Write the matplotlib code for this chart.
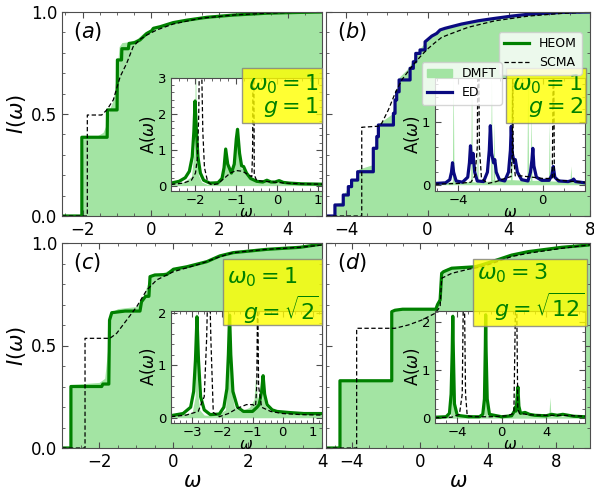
import matplotlib
matplotlib.use('Agg')
import matplotlib.pyplot as plt
from matplotlib.patches import Rectangle, Patch
from matplotlib.lines import Line2D
from matplotlib.ticker import MultipleLocator

# ---- data ----
# (a) w0=1, g=1 : cumulative weight I(w)
heom_a_w = [-2.6, -2.02, -2.02, -1.28, -1.27, -0.99, -0.98, -0.86, -0.85, -0.66, -0.64, -0.47, -0.32, -0.12, 0.02, 0.07, 0.27, 0.65, 1.05, 1.63, 2.41, 3.38, 4.36, 5.0]
heom_a_I = [0, 0, 0.386, 0.386, 0.52, 0.52, 0.765, 0.765, 0.82, 0.82, 0.846, 0.85, 0.863, 0.895, 0.908, 0.92, 0.928, 0.948, 0.96, 0.974, 0.985, 0.994, 0.998, 1.0]
dmft_a_w = [-2.6, -2.03, -1.99, -1.6, -1.4, -1.3, -1.22, -1.1, -1.0, -0.93, -0.85, -0.6, -0.4, -0.2, 0.0, 0.3, 0.7, 1.1, 1.7, 2.5, 3.4, 4.4, 5.0]
dmft_a_I = [0, 0, 0.39, 0.39, 0.41, 0.45, 0.52, 0.57, 0.7, 0.83, 0.85, 0.855, 0.87, 0.9, 0.915, 0.93, 0.95, 0.965, 0.978, 0.99, 0.997, 1.0, 1.0]
scma_a_w = [-2.6, -1.86, -1.86, -1.44, -1.29, -1.1, -0.9, -0.71, -0.52, -0.32, -0.12, 0.17, 0.65, 1.44, 2.41, 3.38, 4.36, 5.0]
scma_a_I = [0, 0, 0.495, 0.495, 0.52, 0.569, 0.683, 0.748, 0.83, 0.866, 0.887, 0.912, 0.941, 0.969, 0.985, 0.994, 0.999, 1.0]
# (a) spectral function A(w), inset
heom_a_iw = [-2.6, -2.4, -2.25, -2.15, -2.08, -2.04, -2.01, -1.98, -1.94, -1.88, -1.8, -1.65, -1.45, -1.35, -1.3, -1.26, -1.21, -1.12, -1.05, -1.0, -0.97, -0.92, -0.87, -0.82, -0.75, -0.65, -0.5, -0.35, -0.25, -0.15, -0.05, 0.05, 0.15, 0.3, 0.6, 1.1]
heom_a_A = [0.07, 0.12, 0.22, 0.4, 0.8, 1.5, 2.36, 1.6, 0.8, 0.35, 0.15, 0.07, 0.08, 0.2, 0.5, 1.02, 0.6, 0.35, 0.6, 1.3, 1.57, 0.9, 0.55, 0.53, 0.35, 0.2, 0.12, 0.1, 0.15, 0.1, 0.1, 0.14, 0.09, 0.07, 0.05, 0.04]
scma_a_iw = [-2.6, -2.3, -2.1, -2.0, -1.95, -1.92, -1.9, -1.86, -1.82, -1.78, -1.7, -1.6, -1.45, -1.3, -1.15, -1.0, -0.85, -0.7, -0.62, -0.6, -0.585, -0.575, -0.56, -0.5, -0.3, -0.1, 0.2, 0.6, 1.1]
scma_a_A = [0.03, 0.07, 0.15, 0.35, 0.8, 2.0, 4.0, 4.0, 1.5, 0.5, 0.1, 0.02, 0.05, 0.2, 0.35, 0.42, 0.4, 0.3, 0.25, 1.0, 5.0, 5.0, 0.3, 0.14, 0.12, 0.1, 0.07, 0.05, 0.04]
dmft_a_iw = [-2.6, -2.3, -2.1, -2.03, -2.0, -1.97, -1.93, -1.85, -1.7, -1.5, -1.38, -1.3, -1.26, -1.22, -1.12, -1.04, -1.0, -0.96, -0.9, -0.8, -0.7, -0.55, -0.3, 0.0, 0.4, 1.1]
dmft_a_A = [0.04, 0.1, 0.25, 1.0, 3.6, 1.2, 0.3, 0.1, 0.03, 0.05, 0.2, 0.55, 1.0, 0.6, 0.4, 0.8, 1.6, 1.0, 0.5, 0.45, 0.3, 0.15, 0.12, 0.1, 0.07, 0.05]

# (b) w0=1, g=2
ed_b_w = [-5.0, -4.56, -4.56, -4.15, -4.15, -3.9, -3.9, -3.74, -3.74, -3.44, -3.44, -2.67, -2.67, -2.5, -2.5, -2.42, -2.42, -1.68, -1.68, -1.6, -1.6, -1.52, -1.52, -1.4, -1.4, -0.86, -0.86, -0.7, -0.7, -0.58, -0.58, -0.37, -0.37, -0.12, -0.12, 0.21, 0.45, 0.62, 0.86, 1.68, 2.5, 3.33, 4.15, 4.97, 6.6, 8.0]
ed_b_I = [0, 0, 0.054, 0.054, 0.103, 0.103, 0.144, 0.144, 0.176, 0.176, 0.217, 0.217, 0.332, 0.332, 0.389, 0.389, 0.446, 0.446, 0.503, 0.503, 0.569, 0.569, 0.609, 0.609, 0.667, 0.667, 0.724, 0.724, 0.756, 0.756, 0.797, 0.797, 0.814, 0.814, 0.854, 0.882, 0.895, 0.912, 0.92, 0.941, 0.957, 0.969, 0.98, 0.989, 0.998, 1.0]
dmft_b_w = [-5.0, -4.6, -4.55, -4.2, -4.1, -3.8, -3.5, -3.4, -2.75, -2.6, -2.45, -1.75, -1.6, -1.4, -0.9, -0.6, -0.3, 0.0, 0.5, 1.0, 2.0, 3.0, 4.0, 5.0, 6.5, 8.0]
dmft_b_I = [0, 0, 0.06, 0.07, 0.11, 0.16, 0.19, 0.23, 0.25, 0.34, 0.45, 0.5, 0.58, 0.68, 0.73, 0.79, 0.83, 0.865, 0.9, 0.925, 0.945, 0.963, 0.977, 0.988, 0.997, 1.0]
scma_b_w = [-5.0, -3.24, -3.24, -2.44, -2.26, -1.93, -1.6, -1.27, -0.78, -0.29, 0.04, 0.37, 0.7, 1.19, 2.0, 3.33, 4.97, 6.6, 8.0]
scma_b_I = [0, 0, 0.435, 0.44, 0.454, 0.52, 0.601, 0.667, 0.732, 0.789, 0.822, 0.85, 0.876, 0.895, 0.925, 0.957, 0.98, 0.993, 1.0]
ed_b_iw = [-5.1, -4.6, -4.4, -4.32, -4.27, -4.22, -4.1, -3.8, -3.55, -3.47, -3.42, -3.37, -3.3, -3.22, -3.1, -2.8, -2.62, -2.53, -2.48, -2.42, -2.33, -2.27, -2.2, -2.05, -1.8, -1.62, -1.53, -1.49, -1.44, -1.35, -1.3, -1.2, -1.0, -0.7, -0.58, -0.51, -0.47, -0.42, -0.3, -0.05, 0.3, 0.43, 0.5, 0.57, 0.75, 1.2, 1.4, 1.46, 1.55, 2.0]
ed_b_A = [0.02, 0.03, 0.08, 0.2, 0.35, 0.2, 0.06, 0.04, 0.12, 0.35, 0.62, 0.35, 0.5, 0.2, 0.06, 0.05, 0.2, 0.55, 0.94, 0.5, 0.35, 0.4, 0.2, 0.08, 0.06, 0.2, 0.55, 0.93, 0.5, 0.35, 0.4, 0.2, 0.08, 0.06, 0.2, 0.4, 0.58, 0.3, 0.12, 0.07, 0.07, 0.15, 0.29, 0.12, 0.06, 0.05, 0.07, 0.09, 0.05, 0.03]
scma_b_iw = [-5.1, -4.0, -3.4, -3.2, -3.1, -3.07, -3.03, -3.0, -2.9, -2.6, -2.2, -1.8, -1.5, -1.44, -1.42, -1.4, -1.3, -1.0, -0.5, 0.0, 0.45, 0.5, 0.52, 0.55, 0.8, 1.5, 2.0]
scma_b_A = [0.01, 0.02, 0.04, 0.15, 0.6, 2.0, 2.0, 0.6, 0.1, 0.02, 0.05, 0.1, 0.13, 0.5, 2.0, 0.5, 0.14, 0.14, 0.12, 0.1, 0.1, 2.0, 2.0, 0.1, 0.07, 0.05, 0.04]
dmft_b_iw = [-5.1, -4.28, -4.24, -4.2, -3.41, -3.37, -3.33, -3.13, -3.09, -3.05, -2.47, -2.43, -2.39, -2.35, -2.31, -2.27, -1.53, -1.49, -1.45, -0.75, -0.71, -0.67, -0.59, -0.55, -0.51, 0.27, 0.31, 0.35, 1.29, 1.33, 1.37, 2.0]
dmft_b_A = [0.02, 0.05, 1.8, 0.05, 0.05, 1.8, 0.05, 0.04, 0.8, 0.04, 0.06, 1.8, 0.08, 0.08, 1.0, 0.08, 0.08, 1.8, 0.08, 0.07, 1.8, 0.07, 0.07, 1.2, 0.07, 0.07, 1.0, 0.06, 0.05, 0.3, 0.05, 0.04]

# (c) w0=1, g=sqrt(2)
heom_c_w = [-3.0, -2.76, -2.76, -1.93, -1.9, -1.74, -1.72, -1.66, -1.3, -0.9, -0.86, -0.75, -0.66, -0.63, -0.5, -0.18, 0.0, 0.36, 0.9, 1.25, 1.61, 2.51, 3.41, 4.0]
heom_c_I = [0, 0, 0.3, 0.3, 0.312, 0.312, 0.624, 0.66, 0.668, 0.668, 0.713, 0.74, 0.74, 0.836, 0.844, 0.846, 0.872, 0.884, 0.909, 0.937, 0.953, 0.969, 0.979, 0.995]
dmft_c_w = [-3.0, -2.78, -2.74, -2.0, -1.85, -1.76, -1.7, -1.5, -1.0, -0.85, -0.7, -0.6, -0.3, 0.0, 0.4, 0.9, 1.3, 1.7, 2.5, 3.4, 4.0]
dmft_c_I = [0, 0, 0.31, 0.32, 0.34, 0.5, 0.66, 0.68, 0.69, 0.72, 0.8, 0.845, 0.855, 0.875, 0.89, 0.912, 0.94, 0.955, 0.972, 0.985, 1.0]
scma_c_w = [-3.0, -2.38, -2.38, -1.71, -1.53, -1.26, -0.99, -0.72, -0.45, 0.0, 0.72, 1.25, 1.61, 2.51, 3.41, 4.0]
scma_c_I = [0, 0, 0.535, 0.535, 0.559, 0.624, 0.689, 0.77, 0.82, 0.86, 0.898, 0.933, 0.953, 0.969, 0.979, 0.99]
heom_c_iw = [-3.7, -3.3, -3.05, -2.95, -2.89, -2.84, -2.79, -2.72, -2.6, -2.4, -2.1, -1.95, -1.85, -1.8, -1.76, -1.72, -1.65, -1.5, -1.3, -1.0, -0.85, -0.78, -0.7, -0.65, -0.6, -0.52, -0.35, -0.19, 0.2, 0.7, 1.3]
heom_c_A = [0.04, 0.08, 0.2, 0.5, 1.1, 1.92, 1.1, 0.4, 0.15, 0.06, 0.07, 0.2, 0.55, 1.2, 1.95, 1.2, 0.5, 0.2, 0.12, 0.12, 0.2, 0.25, 0.5, 0.8, 0.45, 0.25, 0.15, 0.12, 0.1, 0.08, 0.08]
scma_c_iw = [-3.7, -3.2, -2.8, -2.6, -2.52, -2.48, -2.42, -2.38, -2.3, -2.1, -1.8, -1.5, -1.2, -1.0, -0.9, -0.86, -0.83, -0.8, -0.7, -0.4, 0.0, 0.6, 1.3]
scma_c_A = [0.02, 0.05, 0.12, 0.4, 1.5, 2.5, 2.5, 1.5, 0.1, 0.02, 0.08, 0.18, 0.25, 0.25, 0.22, 0.6, 2.5, 0.6, 0.2, 0.12, 0.08, 0.06, 0.05]
dmft_c_iw = [-3.7, -3.0, -2.9, -2.86, -2.82, -2.75, -2.6, -2.2, -1.9, -1.8, -1.76, -1.72, -1.6, -1.4, -1.1, -0.95, -0.9, -0.85, -0.8, -0.7, -0.65, -0.6, -0.4, 0.0, 0.6, 1.3]
dmft_c_A = [0.03, 0.1, 0.4, 2.3, 0.5, 0.15, 0.05, 0.04, 0.15, 0.8, 2.3, 0.6, 0.2, 0.12, 0.2, 0.35, 0.8, 0.45, 0.25, 0.35, 0.6, 0.25, 0.12, 0.1, 0.08, 0.06]

# (d) w0=3, g=sqrt(12)
heom_d_w = [-5.5, -4.68, -4.68, -1.64, -1.64, -1.45, -1.0, 0.95, 1.05, 1.2, 1.29, 1.4, 1.88, 3.25, 3.64, 4.42, 4.82, 5.4, 6.38, 8.34, 9.9, 10.0]
heom_d_I = [0, 0, 0.328, 0.328, 0.665, 0.672, 0.677, 0.677, 0.7, 0.722, 0.852, 0.86, 0.877, 0.884, 0.893, 0.914, 0.925, 0.941, 0.958, 0.979, 0.99, 0.992]
dmft_d_w = [-5.5, -4.7, -4.66, -1.68, -1.6, -1.4, 0.9, 1.1, 1.3, 1.5, 2.0, 3.3, 3.7, 4.4, 5.0, 6.4, 8.3, 10.0]
dmft_d_I = [0, 0, 0.33, 0.335, 0.66, 0.675, 0.68, 0.73, 0.86, 0.875, 0.885, 0.89, 0.9, 0.92, 0.935, 0.96, 0.98, 1.0]
scma_d_w = [-5.5, -3.7, -3.7, -1.45, -0.67, 0.12, 0.9, 1.2, 1.29, 1.88, 2.86, 3.64, 4.42, 5.4, 6.38, 8.34, 9.9, 10.0]
scma_d_I = [0, 0, 0.584, 0.584, 0.6, 0.624, 0.657, 0.689, 0.828, 0.852, 0.872, 0.884, 0.905, 0.934, 0.95, 0.974, 0.99, 0.992]
heom_d_iw = [-6.0, -5.0, -4.7, -4.55, -4.45, -4.4, -4.35, -4.25, -4.0, -3.0, -2.0, -1.7, -1.55, -1.47, -1.44, -1.4, -1.3, -1.1, 0.0, 0.9, 1.15, 1.22, 1.3, 1.38, 1.46, 1.55, 1.7, 2.1, 2.5, 3.0, 4.0, 4.5, 5.0, 5.5, 6.5, 7.5]
heom_d_A = [0.02, 0.03, 0.1, 0.5, 1.4, 2.12, 1.4, 0.3, 0.06, 0.03, 0.03, 0.08, 0.4, 1.5, 2.15, 1.4, 0.4, 0.08, 0.03, 0.05, 0.15, 0.23, 0.15, 0.4, 0.65, 0.25, 0.1, 0.12, 0.08, 0.06, 0.05, 0.08, 0.06, 0.08, 0.04, 0.03]
scma_d_iw = [-6.0, -4.5, -3.8, -3.55, -3.45, -3.35, -3.25, -3.1, -2.5, -1.0, 0.5, 1.1, 1.25, 1.35, 1.45, 1.6, 2.5, 4.0, 5.5, 7.5]
scma_d_A = [0.01, 0.02, 0.08, 0.5, 2.5, 2.5, 0.5, 0.05, 0.03, 0.03, 0.05, 0.1, 2.5, 2.5, 0.2, 0.1, 0.07, 0.06, 0.06, 0.04]
dmft_d_iw = [-6.0, -4.6, -4.45, -4.4, -4.35, -4.2, -1.6, -1.48, -1.44, -1.4, -1.3, 1.0, 1.25, 1.35, 1.45, 1.7, 4.25, 4.34, 4.43, 7.5]
dmft_d_A = [0.02, 0.05, 0.8, 2.4, 0.8, 0.05, 0.05, 0.8, 2.4, 0.8, 0.05, 0.05, 0.3, 0.7, 0.3, 0.08, 0.05, 0.44, 0.05, 0.03]

FILL = '#a3e4a3'
GREEN = 'green'
NAVY = '#0a0a80'

plt.rcParams['axes.edgecolor'] = '0.3'
fig = plt.figure(figsize=(5.94, 4.92), dpi=100)


def px(x0, y0, x1, y1):
    # pixel box of the 594x492 picture -> figure fraction [l, b, w, h]
    return [x0 / 594, 1 - y1 / 492, (x1 - x0) / 594, (y1 - y0) / 492]


def style(ax, size):
    ax.minorticks_on()
    ax.tick_params(which='both', direction='in', top=True, right=True, labelsize=size, color='0.3')
    ax.tick_params(which='major', length=4)
    ax.tick_params(which='minor', length=2)


def main_panel(rect, xlim, xstep, label, dmft, scma, line, lcolor, left, bottom):
    ax = fig.add_axes(px(*rect))
    ax.fill_between(dmft[0], 0, dmft[1], color=FILL, lw=0)
    ax.plot(line[0], line[1], color=lcolor, lw=2.3)
    ax.plot(scma[0], scma[1], 'k--', lw=0.9, dashes=(3.5, 2))
    ax.set_xlim(xlim)
    ax.set_ylim(0, 1)
    ax.xaxis.set_major_locator(MultipleLocator(xstep))
    ax.yaxis.set_major_locator(MultipleLocator(0.5))
    style(ax, 12)
    ax.text(0.042, 0.905, label, transform=ax.transAxes, fontsize=15, va='center')
    if left:
        ax.set_ylabel(r'$I(\omega)$', fontsize=15, labelpad=2)
    else:
        ax.tick_params(labelleft=False)
    if bottom:
        ax.set_xlabel(r'$\omega$', fontsize=15, labelpad=0)
    return ax


def inset(rect, xlim, ylim, xstep, dmft, scma, line, lcolor):
    ax = fig.add_axes(px(*rect))
    ax.fill_between(dmft[0], 0, dmft[1], color=FILL, lw=0)
    ax.plot(line[0], line[1], color=lcolor, lw=2.3)
    ax.plot(scma[0], scma[1], 'k--', lw=0.9, dashes=(3.5, 2))
    ax.set_xlim(xlim)
    ax.set_ylim(ylim)
    ax.xaxis.set_major_locator(MultipleLocator(xstep))
    ax.yaxis.set_major_locator(MultipleLocator(1))
    style(ax, 9.5)
    ax.tick_params(axis='x', pad=2)
    ax.set_ylabel(r'$\mathrm{A}(\omega)$', fontsize=12, labelpad=0)
    ax.set_xlabel(r'$\omega$', fontsize=11, labelpad=-1)
    return ax


def gbox(rect, lines):
    fig.add_artist(Rectangle(px(*rect)[:2], px(*rect)[2], px(*rect)[3], transform=fig.transFigure,
                             facecolor='yellow', alpha=0.8, edgecolor='0.5', lw=1, zorder=4))
    for x, y, s, ha in lines:
        fig.text(x / 594, 1 - y / 492, s, ha=ha, va='center', color=GREEN, fontsize=16, zorder=5)


main_panel((62, 12, 322, 216), (-2.6, 5), 2, '$(a)$', (dmft_a_w, dmft_a_I), (scma_a_w, scma_a_I), (heom_a_w, heom_a_I), GREEN, True, False)
main_panel((326, 12, 590, 216), (-5, 8), 4, '$(b)$', (dmft_b_w, dmft_b_I), (scma_b_w, scma_b_I), (ed_b_w, ed_b_I), NAVY, False, False)
main_panel((62, 243, 322, 448), (-3, 4), 2, '$(c)$', (dmft_c_w, dmft_c_I), (scma_c_w, scma_c_I), (heom_c_w, heom_c_I), GREEN, True, True)
main_panel((326, 243, 590, 448), (-5.5, 10), 4, '$(d)$', (dmft_d_w, dmft_d_I), (scma_d_w, scma_d_I), (heom_d_w, heom_d_I), GREEN, False, True)

inset((171, 78, 322, 191), (-2.6, 1.1), (-0.15, 3), 1, (dmft_a_iw, dmft_a_A), (scma_a_iw, scma_a_A), (heom_a_iw, heom_a_A), GREEN)
inset((435, 78, 585, 191), (-5.1, 2.0), (-0.1, 1.7), 4, (dmft_b_iw, dmft_b_A), (scma_b_iw, scma_b_A), (ed_b_iw, ed_b_A), NAVY)
inset((171, 311, 322, 423), (-3.7, 1.3), (-0.1, 2.03), 1, (dmft_c_iw, dmft_c_A), (scma_c_iw, scma_c_A), (heom_c_iw, heom_c_A), GREEN)
inset((435, 311, 585, 423), (-6, 7.5), (-0.1, 2.23), 4, (dmft_d_iw, dmft_d_A), (scma_d_iw, scma_d_A), (heom_d_iw, heom_d_A), GREEN)

gbox((242, 68, 322, 123), [(319, 84, r'$\omega_0=1$', 'right'), (319, 107, r'$g=1$', 'right')])
gbox((506, 68, 586, 123), [(583, 84, r'$\omega_0=1$', 'right'), (583, 107, r'$g=2$', 'right')])
gbox((223, 259, 322, 325), [(227, 277, r'$\omega_0=1$', 'left'), (319, 310, r'$g=\sqrt{2}$', 'right')])
gbox((473, 259, 587, 326), [(477, 273, r'$\omega_0=3$', 'left'), (584, 307, r'$g=\sqrt{12}$', 'right')])

fig.legend(handles=[Line2D([], [], color=GREEN, lw=2.3), Line2D([], [], color='k', ls='--', lw=0.9, dashes=(3.5, 2))],
           labels=['HEOM', 'SCMA'], loc='upper right', bbox_to_anchor=(588 / 594, 1 - 26 / 492),
           fontsize=9, handlelength=2.0, borderpad=0.4, labelspacing=0.5)
fig.legend(handles=[Patch(color=FILL), Line2D([], [], color=NAVY, lw=2.3)],
           labels=['DMFT', 'ED'], loc='upper right', bbox_to_anchor=(508 / 594, 1 - 56 / 492),
           fontsize=9, handlelength=2.0, borderpad=0.4, labelspacing=0.5)

fig.savefig('out.png', dpi=100)
